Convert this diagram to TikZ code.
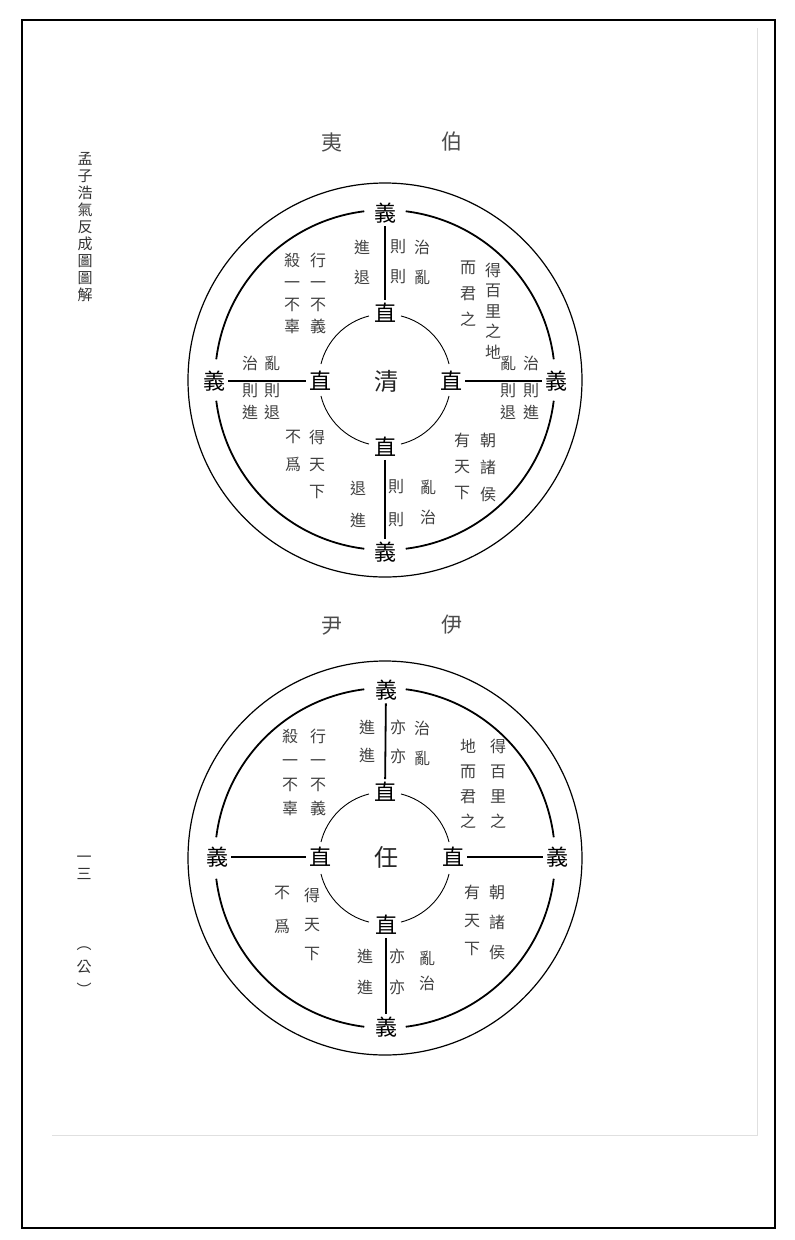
\documentclass[tikz,border=0pt]{standalone}
\usepackage{fontspec}
\usepackage{tikz}
\newfontfamily\cjk{Noto Sans CJK TC}

\begin{document}
\begin{tikzpicture}[
    x=1pt, y=-1pt,
    big/.style={font=\cjk\fontsize{22}{22}\selectfont, inner sep=3pt},
    ctr/.style={font=\cjk\fontsize{24}{24}\selectfont, inner sep=2pt, text=black!85},
    title/.style={font=\cjk\fontsize{21}{21}\selectfont, text=black!70},
    col/.style={font=\cjk\fontsize{16}{#1}\selectfont, align=center, inner sep=0pt, text=black!75},
    col/.default=22,
    side/.style={font=\cjk\fontsize{15}{#1}\selectfont, align=center, inner sep=0pt, text=black!80},
    side/.default=17,
    ring/.style={line width=1.8pt},
    rim/.style={line width=1.2pt},
    hub/.style={line width=0.9pt},
    link/.style={line width=1.8pt}
  ]
  \useasboundingbox (0,0) rectangle (795,1240);
  \fill[white] (0,0) rectangle (795,1240);
  \draw[black!12, line width=1pt] (52,1135) -- (757,1135) -- (757,28);
  \draw[line width=2.5pt] (22,20) rectangle (775,1228);

  % Margin
  \node[side] (head) at (85,227) {孟\\子\\浩\\氣\\反\\成\\圖\\圖\\解};
  \node[side] (page) at (84,868) {一\\三};
  \node[side=23] (mark) at (84,971) {︵\\公\\︶};

  % Circles
  \foreach \cx/\cy in {385/380, 385/858} {
    \draw[rim] (\cx,\cy) circle[radius=197];
    \foreach \a in {0,90,180,270} {
      \draw[ring] (\cx,\cy) ++(\a+7:170) arc[start angle=\a+7, end angle=\a+83, radius=170];
      \draw[hub] (\cx,\cy) ++(\a+14:66) arc[start angle=\a+14, end angle=\a+76, radius=66];
    }
  }

  % Top figure
  \node[title] (ti1a) at (332,142) {夷};
  \node[title] (ti1b) at (452,142) {伯};
  \node[big] (yi1n) at (385,213) {義};
  \node[big] (zhi1n) at (385,313) {直};
  \node[ctr] (qing) at (386,381) {清};
  \node[big] (zhi1w) at (320,381) {直};
  \node[big] (yi1w) at (214,381) {義};
  \node[big] (zhi1e) at (451,381) {直};
  \node[big] (yi1e) at (556,381) {義};
  \node[big] (zhi1s) at (385,447) {直};
  \node[big] (yi1s) at (385,552) {義};

  \node[col=30] (p1a) at (422,262) {治\\亂};
  \node[col=30] (p1b) at (398,262) {則\\則};
  \node[col=30] (p1c) at (362,262) {進\\退};
  \node[col] (p1d) at (318,293) {行\\一\\不\\義};
  \node[col] (p1e) at (292,293) {殺\\一\\不\\辜};
  \node[col=20.5] (p1f) at (493,311) {得\\百\\里\\之\\地};
  \node[col=26] (p1g) at (468,294) {而\\君\\之};
  \node[col] (p1h) at (250,388) {治\\[5pt]則\\進};
  \node[col] (p1i) at (272,388) {亂\\[5pt]則\\退};
  \node[col] (p1j) at (508,388) {亂\\[5pt]則\\退};
  \node[col] (p1k) at (531,388) {治\\[5pt]則\\進};
  \node[col=27] (p1l) at (317,464) {得\\天\\下};
  \node[col=28] (p1m) at (293,451) {不\\爲};
  \node[col=32] (p1n) at (358,504) {退\\進};
  \node[col=33] (p1o) at (396,503) {則\\則};
  \node[col=30] (p1p) at (428,502) {亂\\治};
  \node[col=26] (p1q) at (462,466) {有\\天\\下};
  \node[col=27] (p1r) at (488,467) {朝\\諸\\侯};

  \draw[link] (yi1n) -- (zhi1n);
  \draw[link] (yi1w) -- (zhi1w);
  \draw[link] (zhi1e) -- (yi1e);
  \draw[link] (zhi1s) -- (yi1s);

  % Bottom figure
  \node[title] (ti2a) at (332,626) {尹};
  \node[title] (ti2b) at (452,625) {伊};
  \node[big] (yi2n) at (386,690) {義};
  \node[big] (zhi2n) at (385,792) {直};
  \node[ctr] (ren) at (386,857) {任};
  \node[big] (zhi2w) at (320,857) {直};
  \node[big] (yi2w) at (217,857) {義};
  \node[big] (zhi2e) at (453,857) {直};
  \node[big] (yi2e) at (557,857) {義};
  \node[big] (zhi2s) at (386,925) {直};
  \node[big] (yi2s) at (386,1027) {義};

  \node[col=30] (p2a) at (422,743) {治\\亂};
  \node[col=29] (p2b) at (398,742) {亦\\亦};
  \node[col=28] (p2c) at (367,741) {進\\進};
  \node[col=24] (p2d) at (318,772) {行\\一\\不\\義};
  \node[col=24] (p2e) at (290,772) {殺\\一\\不\\辜};
  \node[col=25] (p2f) at (498,784) {得\\百\\里\\之};
  \node[col=25] (p2g) at (468,784) {地\\而\\君\\之};
  \node[col=29] (p2h) at (312,924) {得\\天\\下};
  \node[col=34] (p2i) at (282,910) {不\\爲};
  \node[col=31] (p2j) at (365,972) {進\\進};
  \node[col=31] (p2k) at (397,972) {亦\\亦};
  \node[col=25] (p2l) at (427,971) {亂\\治};
  \node[col=28] (p2m) at (472,920) {有\\天\\下};
  \node[col=30] (p2n) at (497,922) {朝\\諸\\侯};

  \draw[link] (yi2n) -- (zhi2n);
  \draw[link] (yi2w) -- (zhi2w);
  \draw[link] (zhi2e) -- (yi2e);
  \draw[link] (zhi2s) -- (yi2s);
\end{tikzpicture}
\end{document}
